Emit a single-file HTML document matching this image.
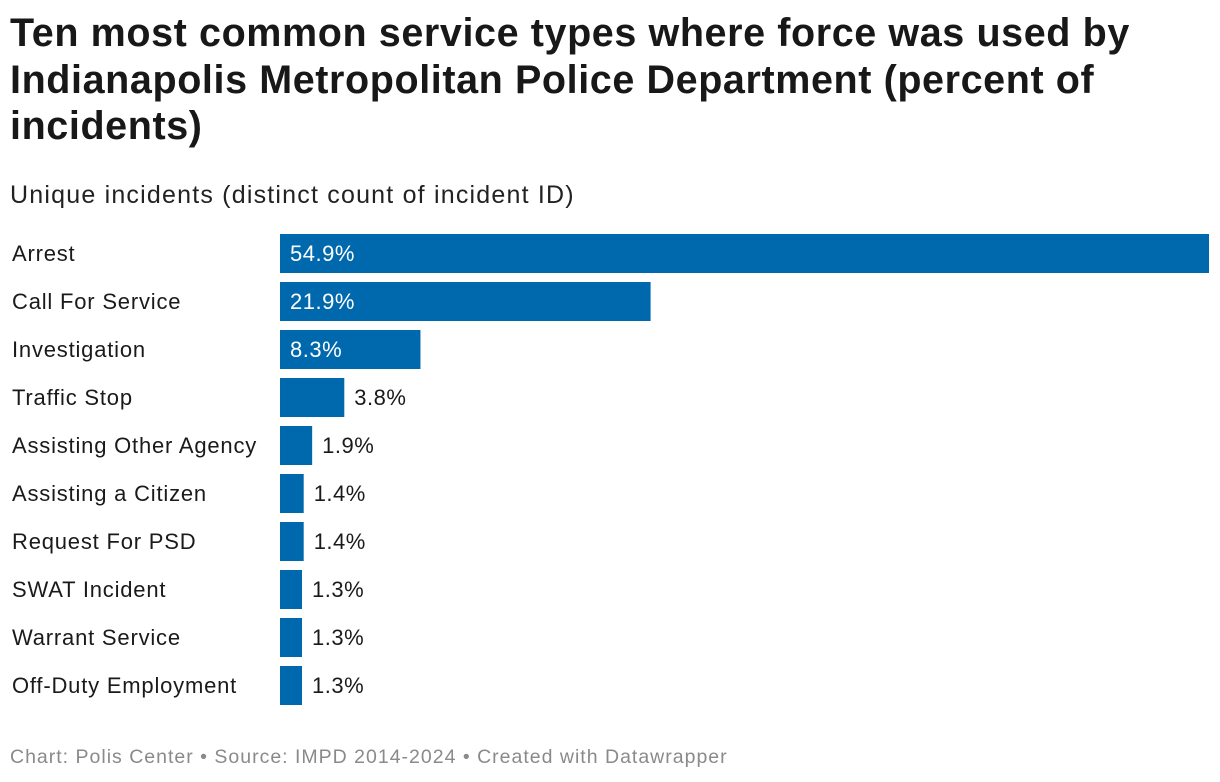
<!DOCTYPE html>
<html><head><meta charset="utf-8"><style>
body{margin:0;background:#fff;width:1220px;height:782px;overflow:hidden;font-family:"Liberation Sans",sans-serif;color:#181818}
#title{position:absolute;left:10px;top:10px;font-size:39.5px;font-weight:bold;line-height:46.5px;white-space:nowrap;letter-spacing:0.6px}
#sub{position:absolute;left:10px;top:181px;font-size:25px;color:#222;white-space:nowrap;letter-spacing:1.2px}
#foot{position:absolute;left:10px;top:746px;font-size:19.5px;color:#8a8a8a;white-space:nowrap;letter-spacing:1px}
svg{position:absolute;left:0;top:0}
</style></head><body>
<div id="title">Ten most common service types where force was used by<br>Indianapolis Metropolitan Police Department (percent of<br>incidents)</div>
<div id="sub">Unique incidents (distinct count of incident ID)</div>
<svg id="chart" width="1220" height="782"></svg>
<div id="foot">Chart: Polis Center • Source: IMPD 2014-2024 • Created with Datawrapper</div>
<script>
const categories=["Arrest","Call For Service","Investigation","Traffic Stop","Assisting Other Agency","Assisting a Citizen","Request For PSD","SWAT Incident","Warrant Service","Off-Duty Employment"];
const values=[54.9,21.9,8.3,3.8,1.9,1.4,1.4,1.3,1.3,1.3];
const valueLabels=["54.9%","21.9%","8.3%","3.8%","1.9%","1.4%","1.4%","1.3%","1.3%","1.3%"];
const svg=document.getElementById('chart');
const NS='http://www.w3.org/2000/svg';
const x0=280,x1=1209,maxV=Math.max(...values);
const xs=v=>x0+(x1-x0)*v/maxV;
const ys=i=>234+i*48;
const bh=39;
categories.forEach((c,i)=>{
  const y=ys(i);
  const t=document.createElementNS(NS,'text');
  
  
  t.setAttribute('x',12);t.setAttribute('y',y+bh/2+7.5);
  t.setAttribute('font-size','22');t.setAttribute('letter-spacing','0.8');t.setAttribute('fill','#1a1a1a');
  t.textContent=c;svg.appendChild(t);
  const r=document.createElementNS(NS,'rect');
  
  
  const w=xs(values[i])-x0;
  r.setAttribute('x',x0);r.setAttribute('y',y);r.setAttribute('width',w);r.setAttribute('height',bh);
  r.setAttribute('fill','#0068ad');svg.appendChild(r);
  const l=document.createElementNS(NS,'text');
  
  
  const inside=w>100;
  l.setAttribute('x',inside?x0+10:x0+w+10);l.setAttribute('y',y+bh/2+7.5);
  l.setAttribute('font-size','22');l.setAttribute('letter-spacing','0.5');l.setAttribute('fill',inside?'#fff':'#1a1a1a');
  l.textContent=valueLabels[i];svg.appendChild(l);
});
</script>
</body></html>
